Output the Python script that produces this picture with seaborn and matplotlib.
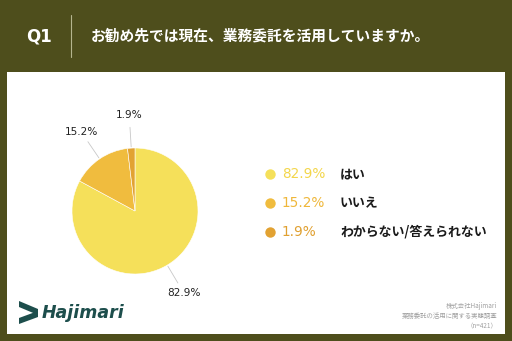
import matplotlib
matplotlib.use("Agg")
import matplotlib.pyplot as plt
import seaborn as sns
from matplotlib.patches import Rectangle, Polygon
import numpy as np

# ---- data ----
categories = ["はい", "いいえ", "わからない/答えられない"]
values = [82.9, 15.2, 1.9]
pct_labels = ["82.9%", "15.2%", "1.9%"]
slice_colors = ["#F5E05A", "#F0BC3E", "#E2A232"]
pct_text_colors = ["#F3D64A", "#EFB73A", "#E0A030"]
title_q = "Q1"
title_text = "お勧め先では現在、業務委託を活用していますか。"
source_lines = ["株式会社Hajimari", "業務委託の活用に関する実態調査", "（n=421）"]

sns.set_theme(style="white")
plt.rcParams["font.family"] = ["Noto Sans CJK JP", "DejaVu Sans"]

W, H = 512, 341
BG = "#4E4E1C"
fig = plt.figure(figsize=(W / 100, H / 100), dpi=100, facecolor=BG)

def fx(x):
    return x / W

def fy(y):
    return 1 - y / H

# white panel
fig.patches.append(Rectangle((fx(7), fy(334)), (505 - 7) / W, (334 - 72) / H,
                             transform=fig.transFigure, facecolor="white",
                             edgecolor="none", zorder=-5))

# title bar
fig.text(fx(26), fy(36), title_q, color="white", fontsize=12, fontweight="bold",
         ha="left", va="center", family=["DejaVu Sans"])
fig.add_artist(plt.Line2D([fx(71), fx(71)], [fy(15), fy(57)], color="#B5B58E",
                          lw=0.8, transform=fig.transFigure))
fig.text(fx(91), fy(36), title_text, color="white", fontsize=10.6, fontweight="bold",
         ha="left", va="center")

# pie
cx, cy, r = 135, 211, 63
ax = fig.add_axes([fx(cx - r), fy(cy + r), 2 * r / W, 2 * r / H])
ax.set_zorder(2)
wedges, _ = ax.pie(values, colors=slice_colors, startangle=90, counterclock=False,
                   wedgeprops=dict(linewidth=0.4, edgecolor="white"))
ax.set_xlim(-1, 1)
ax.set_ylim(-1, 1)
ax.set_aspect("equal")
ax.axis("off")

for w, lab in zip(wedges, pct_labels):
    ang = np.deg2rad((w.theta1 + w.theta2) / 2)
    c, s = np.cos(ang), np.sin(ang)
    ax.plot([1.02 * c, 1.33 * c], [1.02 * s, 1.33 * s], color="#C8C8C8", lw=0.6,
            clip_on=False)
    ax.text(1.52 * c, 1.52 * s, lab, ha="center", va="center", fontsize=7.6,
            color="#222222", clip_on=False, family=["DejaVu Sans"])

# legend
leg_y = [174, 203, 232]
for yy, cat, pl, col, tcol in zip(leg_y, categories, pct_labels, slice_colors, pct_text_colors):
    fig.add_artist(plt.Line2D([fx(270)], [fy(yy)], marker="o", markersize=7.5,
                              color=col, markeredgewidth=0, transform=fig.transFigure))
    fig.text(fx(282), fy(yy), pl, color=tcol, fontsize=9.8, ha="left", va="center",
             family=["DejaVu Sans"])
    fig.text(fx(340), fy(yy), cat, color="#1A1A1A", fontsize=9.3, fontweight="bold",
             ha="left", va="center")

# logo
teal = "#1D4E4C"
fig.patches.append(Polygon([(fx(19), fy(301)), (fx(38), fy(309)), (fx(38), fy(315)),
                            (fx(19), fy(307))], closed=True, transform=fig.transFigure,
                           facecolor=teal, edgecolor="none"))
fig.patches.append(Polygon([(fx(19), fy(318)), (fx(38), fy(311)), (fx(38), fy(317)),
                            (fx(19), fy(324))], closed=True, transform=fig.transFigure,
                           facecolor=teal, edgecolor="none"))
fig.text(fx(42), fy(313), "Hajimari", color=teal, fontsize=12.5, fontweight="bold",
         fontstyle="italic", ha="left", va="center", family=["DejaVu Sans"])

# source
for yy, line in zip([306, 316, 326], source_lines):
    fig.text(fx(497), fy(yy), line, color="#A0A0A0", fontsize=4.6, ha="right", va="center")

fig.savefig("out.png", dpi=100, facecolor=BG)
